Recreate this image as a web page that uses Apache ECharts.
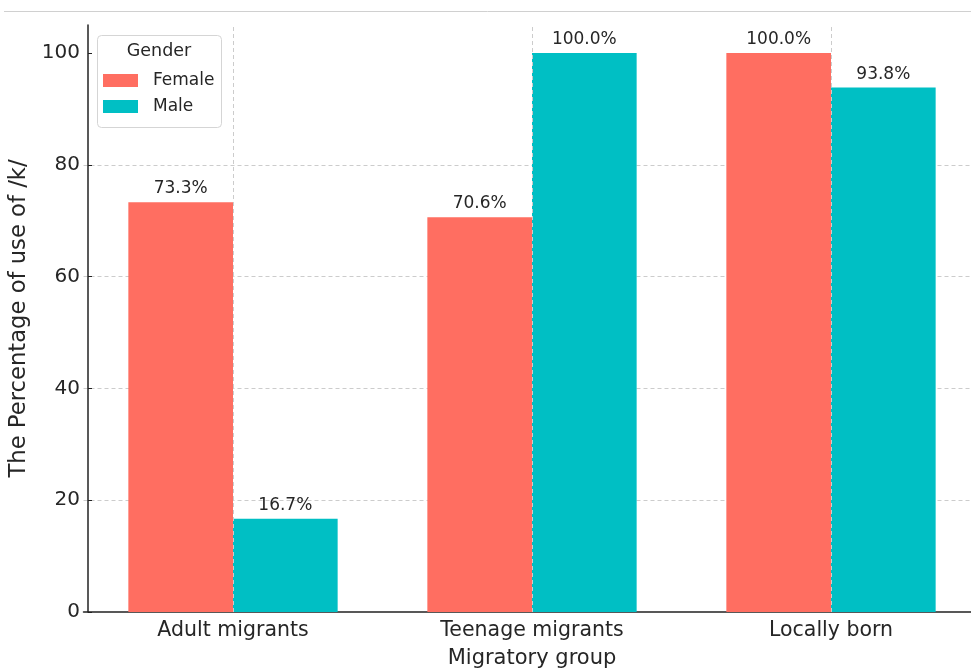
<!DOCTYPE html>
<html>
<head>
<meta charset="utf-8">
<script src="https://cdn.jsdelivr.net/npm/echarts@6/dist/echarts.min.js"></script>
<style>
  html, body { margin: 0; padding: 0; background: #fff; }
  #chart { width: 971px; height: 670px; }
</style>
</head>
<body>
<div id="chart"></div>
<script>
// Share of /k/ use by migratory group and gender
const groups = ['Adult migrants', 'Teenage migrants', 'Locally born'];
const female = [73.3, 70.6, 100.0];
const male = [16.7, 100.0, 93.8];
const yTicks = [0, 20, 40, 60, 80, 100];

const FONT = 'DejaVu Sans';
const TEXT = '#262626';

const chart = echarts.init(document.getElementById('chart'), null, { renderer: 'canvas' });

const barLabel = {
  show: true,
  position: 'top',
  distance: 5,
  fontFamily: FONT,
  fontSize: 17,
  color: TEXT,
  formatter: p => p.value.toFixed(1) + '%'
};

chart.setOption({
  backgroundColor: '#fff',
  animation: false,
  grid: { left: 83.5, right: -9.5, top: 25, bottom: 58, containLabel: false, outerBoundsMode: 'none' },
  xAxis: {
    type: 'category',
    data: groups,
    name: 'Migratory group',
    nameLocation: 'middle',
    nameGap: 36,
    nameTextStyle: { fontFamily: FONT, fontSize: 21, color: TEXT },
    axisLine: { show: true, lineStyle: { color: '#222', width: 1.5 } },
    axisTick: { show: true, inside: true, length: 6, alignWithLabel: true, lineStyle: { color: '#222' } },
    axisLabel: { fontFamily: FONT, fontSize: 20.5, color: TEXT, margin: 8 },
    splitLine: { show: false }
  },
  yAxis: {
    type: 'value',
    min: 0,
    max: 105,
    interval: 20,
    offset: -4.5,
    name: 'The Percentage of use of /k/',
    nameLocation: 'middle',
    nameGap: 56,
    nameTextStyle: { fontFamily: FONT, fontSize: 22.7, color: TEXT },
    axisLine: { show: true, lineStyle: { color: '#222', width: 1.5 } },
    axisTick: { show: true, inside: true, length: 4, customValues: yTicks, lineStyle: { color: '#222' } },
    axisLabel: { fontFamily: FONT, fontSize: 20, color: TEXT, margin: 8, customValues: yTicks },
    splitLine: { show: true, showMinLine: false, showMaxLine: false, lineStyle: { color: '#cccccc', type: [4, 3], width: 1 } }
  },
  legend: {
    left: 98,
    top: 67,
    orient: 'vertical',
    itemWidth: 35,
    itemHeight: 13,
    itemGap: 9,
    icon: 'rect',
    z: 10,
    textStyle: { fontFamily: FONT, fontSize: 17, color: TEXT, padding: [0, 0, 0, 10] },
    data: ['Female', 'Male']
  },
  graphic: [
    { type: 'line', z: 1, shape: { x1: 4, y1: 11.5, x2: 971, y2: 11.5 }, style: { stroke: '#d0d0d0', lineWidth: 1 } },
    { type: 'rect', z: 5, shape: { x: 97.5, y: 35.5, width: 124, height: 92, r: 4 },
      style: { fill: 'rgba(255,255,255,0.85)', stroke: '#d5d5d5', lineWidth: 1 } },
    { type: 'text', z: 6, x: 159, y: 51, style: { text: 'Gender', fontFamily: FONT, fontSize: 17.5, fill: TEXT, align: 'center', verticalAlign: 'middle' } }
  ],
  series: [
    {
      // vertical grid lines at each group centre, behind the bars
      type: 'line',
      data: [],
      z: 1,
      silent: true,
      markLine: {
        silent: true,
        symbol: 'none',
        label: { show: false },
        lineStyle: { color: '#cccccc', type: [4, 3], width: 1 },
        data: groups.map(g => ({ xAxis: g }))
      }
    },
    {
      name: 'Female',
      type: 'bar',
      data: female,
      barWidth: '35%',
      barGap: '0%',
      barCategoryGap: '30%',
      itemStyle: { color: '#FF6E61' },
      label: barLabel,
      z: 2
    },
    {
      name: 'Male',
      type: 'bar',
      data: male,
      barWidth: '35%',
      barGap: '0%',
      itemStyle: { color: '#00BFC4' },
      label: barLabel,
      z: 2
    }
  ]
});
</script>
</body>
</html>
